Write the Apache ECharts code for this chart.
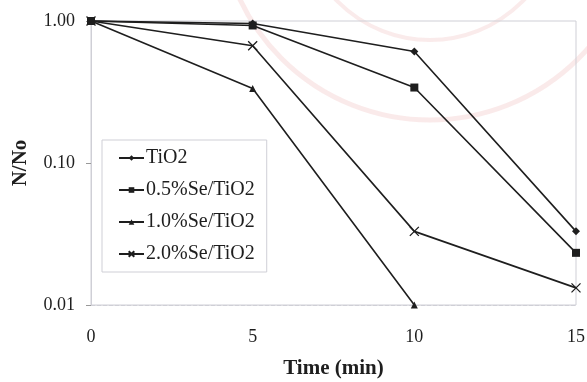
<!DOCTYPE html>
<html>
<head>
<meta charset="utf-8">
<script src="https://cdn.jsdelivr.net/npm/echarts@6/dist/echarts.min.js"></script>
<style>
  html, body { margin: 0; padding: 0; background: #fff; }
  #chart { width: 587px; height: 382px; }
</style>
</head>
<body>
<div id="chart"></div>
<script>
// Survival ratio N/No versus irradiation time
const times = [0, 5, 10, 15];
const seriesNames = ['TiO2', '0.5%Se/TiO2', '1.0%Se/TiO2', '2.0%Se/TiO2'];
const tio2 = [1.0, 0.96, 0.61, 0.033];
const se05 = [1.0, 0.93, 0.34, 0.0233];
const se10 = [1.0, 0.335, 0.01, null];
const se20 = [1.0, 0.67, 0.033, 0.0132];

const crossPath = 'path://M0,0 L10,10 M10,0 L0,10';
const symbols = ['diamond', 'rect', 'triangle', crossPath];
const symbolSizes = [8, 8, 7, 9];
const values = [tio2, se05, se10, se20];

const ink = '#1e1e1e';
const serif = '"Liberation Serif", "DejaVu Serif", serif';

const chart = echarts.init(document.getElementById('chart'));
chart.setOption({
  animation: false,
  backgroundColor: '#fff',
  // faint circular seal printed behind the plot
  graphic: [
    { type: 'circle', z: -10, silent: true, shape: { cx: 430, cy: -90, r: 210 },
      style: { fill: 'none', stroke: 'rgba(215,90,90,0.13)', lineWidth: 5 } },
    { type: 'circle', z: -10, silent: true, shape: { cx: 430, cy: -90, r: 130 },
      style: { fill: 'none', stroke: 'rgba(215,90,90,0.12)', lineWidth: 4 } }
  ],
  grid: {
    left: 91, right: 11, top: 21, bottom: 77,
    outerBoundsMode: 'none', containLabel: false,
    show: true, borderColor: '#cfcfd6', borderWidth: 1
  },
  legend: {
    orient: 'vertical',
    left: 102, top: 140,
    padding: [8, 12, 8, 16],
    itemGap: 12,
    itemWidth: 25, itemHeight: 7,
    borderColor: '#cfcfd6', borderWidth: 1,
    backgroundColor: '#fff',
    textStyle: { fontFamily: serif, fontSize: 20, color: ink, padding: [0, 0, 0, -3] },
    data: seriesNames
  },
  xAxis: {
    type: 'value', min: 0, max: 15, interval: 5,
    name: 'Time (min)', nameLocation: 'middle', nameGap: 53,
    nameTextStyle: { fontFamily: serif, fontSize: 21, fontWeight: 'bold', color: ink },
    axisLine: { show: true, lineStyle: { color: '#cfcfd6', type: 'dashed' } },
    axisTick: { show: false },
    splitLine: { show: false },
    axisLabel: { fontFamily: serif, fontSize: 18, color: ink, margin: 23 }
  },
  yAxis: {
    type: 'log', logBase: 10, min: 0.01, max: 1,
    name: 'N/No', nameLocation: 'middle', nameGap: 60,
    nameTextStyle: { fontFamily: serif, fontSize: 21, fontWeight: 'bold', color: ink },
    axisLine: { show: true, lineStyle: { color: '#cfcfd6' } },
    axisTick: { show: true, length: 5, lineStyle: { color: '#999' } },
    minorTick: { show: false },
    splitLine: { show: false },
    axisLabel: {
      fontFamily: serif, fontSize: 18, color: ink, margin: 16,
      formatter: v => Number(v).toFixed(2)
    }
  },
  series: seriesNames.map((name, i) => ({
    name,
    type: 'line',
    data: times.map((t, j) => values[i][j] == null ? null : [t, values[i][j]]).filter(d => d),
    symbol: symbols[i],
    symbolSize: symbolSizes[i],
    showAllSymbol: true,
    clip: false,
    lineStyle: { color: ink, width: 1.6 },
    itemStyle: { color: i === 3 ? 'transparent' : ink, borderColor: ink, borderWidth: i === 3 ? 1.3 : 0 },
    emphasis: { disabled: true }
  }))
});
</script>
</body>
</html>
